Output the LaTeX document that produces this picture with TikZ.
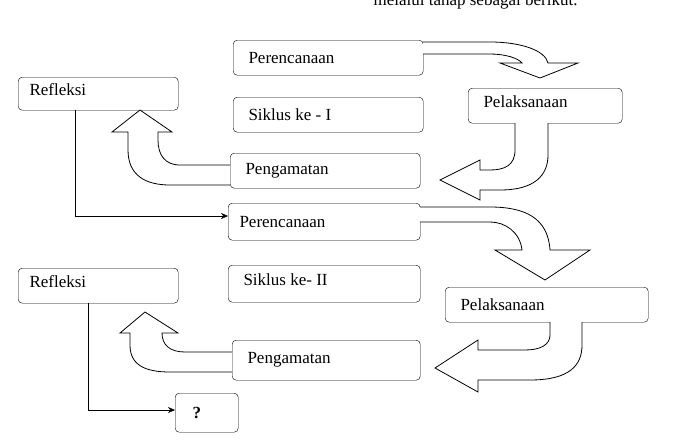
\documentclass[tikz,border=0pt]{standalone}
\usepackage{fontspec}
\setmainfont{Liberation Serif}
\usetikzlibrary{positioning, arrows.meta}

\begin{document}
\begin{tikzpicture}[
    x=1pt, y=-1pt,
    box/.style={draw, rectangle, rounded corners=4pt, anchor=north west, inner sep=0pt, align=left},
    lbl/.style={anchor=west, font=\fontsize{17}{19}\selectfont},
    blockarrow/.style={draw, fill=white, line width=0.8pt},
    arrow/.style={-{Stealth[length=7pt, width=6pt]}},
]
\useasboundingbox (0,0) rectangle (700,442);

% Top text (cut off)
\node[anchor=west, font=\fontsize{17}{19}\selectfont] (intro) at (370,1) {melalui tahap sebagai berikut.};

% Cycle I
\node[box, minimum width=190pt, minimum height=35pt] (plan1) at (233,40) {};
\node[lbl] at ([xshift=12pt]plan1.west) {Perencanaan};
\node[box, minimum width=160pt, minimum height=33pt] (refl1) at (18,77) {};
\node[lbl] at ([xshift=8pt,yshift=4pt]refl1.west) {Refleksi};
\node[box, minimum width=190pt, minimum height=35pt] (cyc1) at (233,97) {};
\node[lbl] at ([xshift=12pt]cyc1.west) {Siklus ke - I};
\node[box, minimum width=154pt, minimum height=35pt] (exec1) at (468,88) {};
\node[lbl] at ([xshift=12pt,yshift=4pt]exec1.west) {Pelaksanaan};
\node[box, minimum width=190pt, minimum height=35pt] (obs1) at (230,153) {};
\node[lbl] at ([xshift=12pt]obs1.west) {Pengamatan};

% Cycle II
\node[box, minimum width=192pt, minimum height=37pt] (plan2) at (228,203) {};
\node[lbl] at ([xshift=8pt]plan2.west) {Perencanaan};
\node[box, minimum width=192pt, minimum height=37pt] (cyc2) at (228,265) {};
\node[lbl] at ([xshift=12pt,yshift=4pt]cyc2.west) {Siklus ke- II};
\node[box, minimum width=160pt, minimum height=35pt] (refl2) at (18,268) {};
\node[lbl] at ([xshift=8pt,yshift=4pt]refl2.west) {Refleksi};
\node[box, minimum width=203pt, minimum height=35pt] (exec2) at (445,287) {};
\node[lbl] at ([xshift=12pt]exec2.west) {Pelaksanaan};
\node[box, minimum width=188pt, minimum height=40pt] (obs2) at (232,340) {};
\node[lbl] at ([xshift=12pt]obs2.west) {Pengamatan};
\node[box, minimum width=63pt, minimum height=39pt] (next) at (175,393) {};
\node[lbl, font=\fontsize{17}{19}\selectfont\bfseries] at ([xshift=14pt]next.west) {?};

% Block arrows, cycle I
\draw[blockarrow] (423,42) -- (490,42) .. controls (520,42) and (545,50) .. (548,63)
  -- (578,63) -- (540,78) -- (500,63) -- (522,63) .. controls (518,58) and (505,54) .. (490,54) -- (423,54);
\draw[blockarrow] (515,123) -- (515,150) .. controls (515,165) and (505,170) .. (490,170)
  -- (480,170) -- (480,160) -- (440,180) -- (480,200) -- (480,190) -- (500,190)
  .. controls (535,190) and (548,175) .. (548,155) -- (548,123);
\draw[blockarrow] (230,165) -- (180,165) .. controls (165,165) and (158,155) .. (158,140)
  -- (158,132) -- (172,132) -- (140,110) -- (112,132) -- (128,132) -- (128,150)
  .. controls (128,175) and (145,185) .. (170,185) -- (230,185);

% Block arrows, cycle II
\draw[blockarrow] (420,207) -- (490,207) .. controls (525,207) and (548,218) .. (550,250)
  -- (590,250) -- (545,280) -- (495,250) -- (522,250) .. controls (520,232) and (505,222) .. (490,222) -- (420,222);
\draw[blockarrow] (550,322) -- (550,335) .. controls (550,345) and (540,350) .. (525,350)
  -- (478,350) -- (478,340) -- (435,368) -- (478,392) -- (478,380) -- (530,380)
  .. controls (570,380) and (582,365) .. (582,345) -- (582,322);
\draw[blockarrow] (232,352) -- (185,352) .. controls (170,352) and (162,345) .. (162,333)
  -- (178,333) -- (145,312) -- (120,333) -- (130,333) -- (130,345)
  .. controls (130,365) and (145,372) .. (170,372) -- (232,372);

% Connectors
\coordinate (turn1) at (75,216);
\draw[arrow] (refl1.south -| turn1) -- (turn1) -- (plan2.west |- turn1);
\coordinate (turn2) at (88,410);
\draw[arrow] (refl2.south -| turn2) -- (turn2) -- (next.west |- turn2);

\end{tikzpicture}
\end{document}
